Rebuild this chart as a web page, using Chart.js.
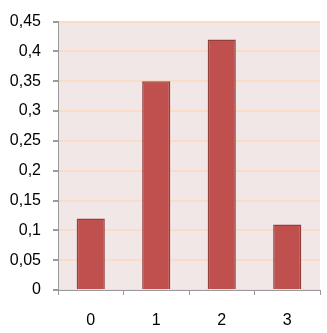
<!DOCTYPE html>
<html>
<head>
<meta charset="utf-8">
<script src="https://cdn.jsdelivr.net/npm/chart.js@4/dist/chart.umd.min.js"></script>
<style>
  html, body { margin: 0; padding: 0; background: #fff; }
  #wrap { width: 327px; height: 333px; }
</style>
</head>
<body>
<div id="wrap"><canvas id="chart" width="327" height="333"></canvas></div>
<script>
const categories = ["0", "1", "2", "3"];
const probabilities = [0.12, 0.35, 0.42, 0.11];
const yTickLabels = ["0", "0,05", "0,1", "0,15", "0,2", "0,25", "0,3", "0,35", "0,4", "0,45"];

// fill the plot area with the pale pink background
const plotBackground = {
    id: "plotBackground",
    beforeDraw(chart) {
        const { ctx, chartArea } = chart;
        ctx.save();
        ctx.fillStyle = "#f2e7e7";
        ctx.fillRect(chartArea.left, chartArea.top, chartArea.right - chartArea.left, chartArea.bottom - chartArea.top);
        ctx.restore();
    }
};

new Chart(document.getElementById("chart"), {
    type: "bar",
    data: {
        labels: categories,
        datasets: [{
            data: probabilities,
            backgroundColor: "#c0504d",
            borderColor: "#93403d",
            borderWidth: 1.5,
            barPercentage: 0.86,
            categoryPercentage: 0.5
        }]
    },
    options: {
        responsive: false,
        animation: false,
        layout: { padding: { top: 11, right: 7, left: 0, bottom: 0 } },
        plugins: {
            legend: { display: false },
            tooltip: { enabled: false }
        },
        scales: {
            x: {
                afterFit: scale => { scale.height = 43; },
                grid: {
                    offset: true,
                    drawOnChartArea: false,
                    tickLength: 5,
                    tickColor: "#9a9a9a"
                },
                border: { color: "#9a9a9a", width: 1 },
                ticks: { color: "#000", padding: 16, font: { family: "Liberation Sans", size: 16 } }
            },
            y: {
                min: 0,
                max: 0.45,
                afterFit: scale => { scale.width = 58; },
                afterBuildTicks: scale => {
                    scale.ticks = yTickLabels.map((_, i) => ({ value: i * 0.05 }));
                },
                grid: {
                    color: "#fbdcc6",
                    lineWidth: 2,
                    tickLength: 5,
                    tickColor: "#9a9a9a"
                },
                border: { color: "#9a9a9a", width: 1 },
                ticks: {
                    color: "#000",
                    padding: 12,
                    font: { family: "Liberation Sans", size: 16 },
                    callback: (value, index) => yTickLabels[index]
                }
            }
        }
    },
    plugins: [plotBackground]
});
</script>
</body>
</html>
